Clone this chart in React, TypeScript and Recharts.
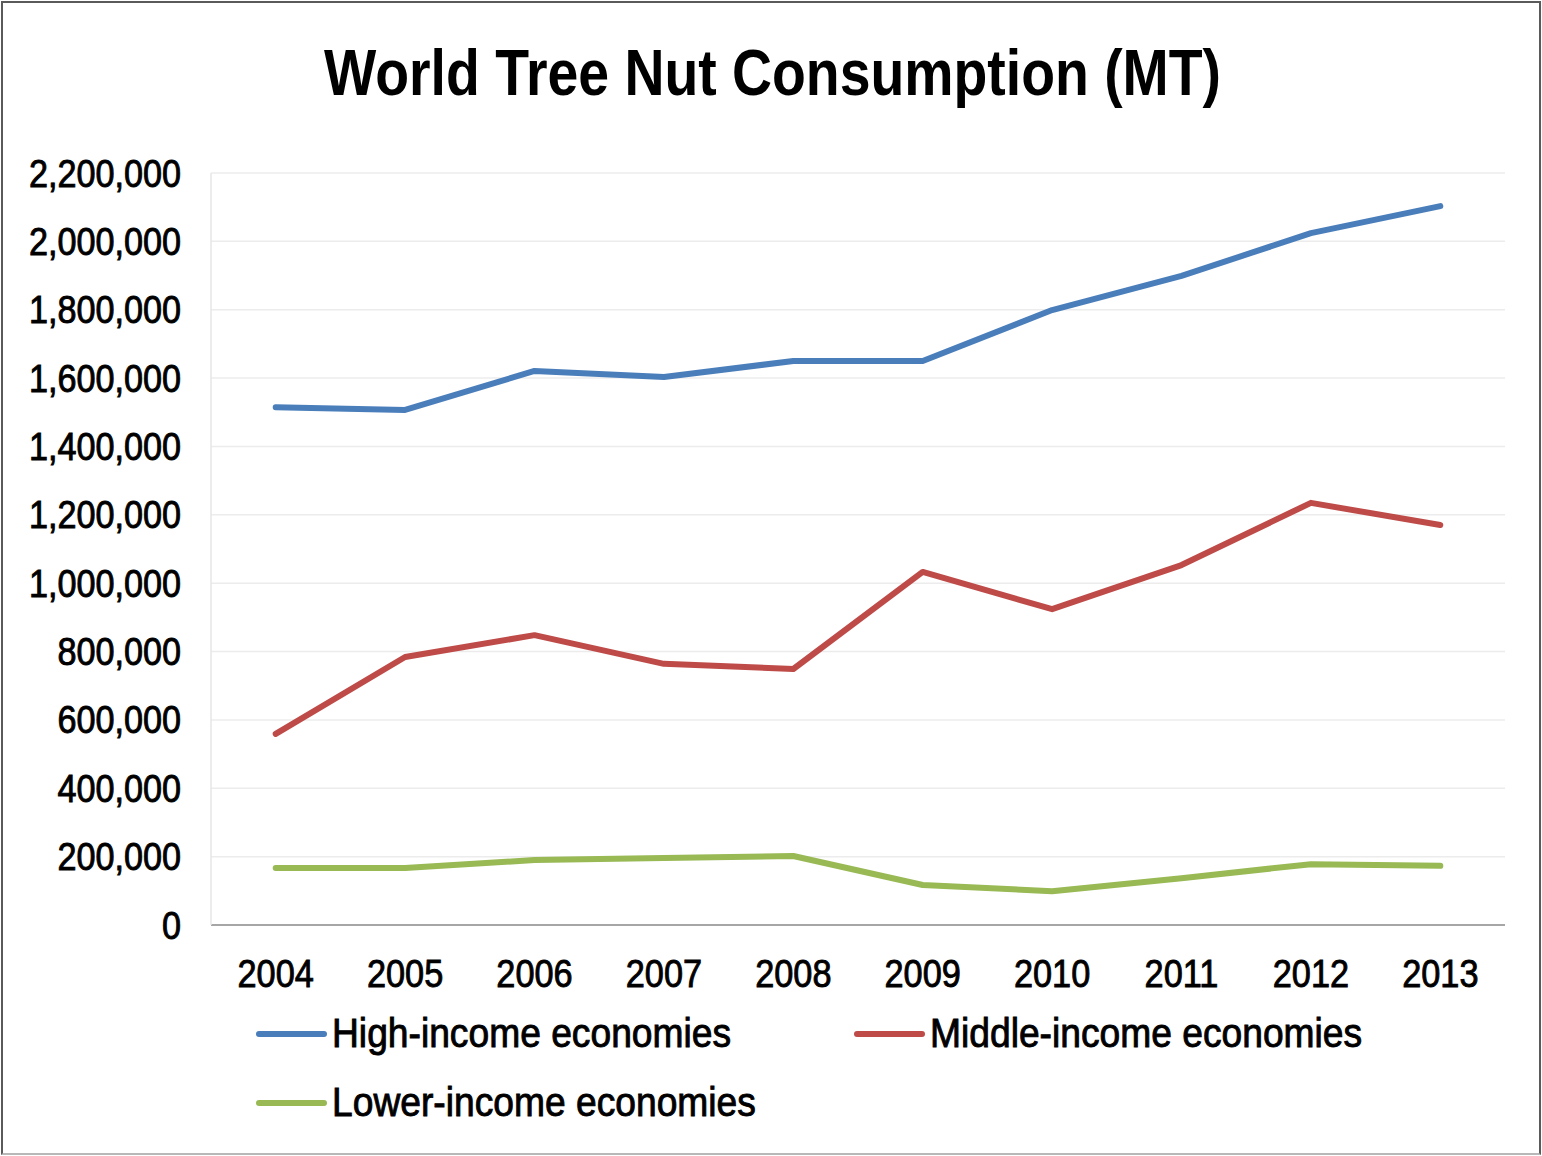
import { LineChart, Line, XAxis, YAxis, CartesianGrid, Legend } from 'recharts';

const years = ['2004', '2005', '2006', '2007', '2008', '2009', '2010', '2011', '2012', '2013'];
const highIncome = [1515000, 1507000, 1621000, 1603000, 1650000, 1650000, 1799000, 1899000, 2024000, 2103000];
const middleIncome = [559000, 784000, 848000, 764000, 749000, 1033000, 924000, 1053000, 1235000, 1170000];
const lowerIncome = [167000, 167000, 190000, 196000, 202000, 117000, 99000, 137000, 178000, 173000];
const yTicks = [0, 200000, 400000, 600000, 800000, 1000000, 1200000, 1400000, 1600000, 1800000, 2000000, 2200000];
const seriesOrder = ['High-income economies', 'Middle-income economies', 'Lower-income economies'];

const FONT = '"Liberation Sans", Arial, sans-serif';

const data = years.map((year, i) => ({
  year,
  high: highIncome[i],
  middle: middleIncome[i],
  lower: lowerIncome[i],
}));

function YTick({ x, y, payload }: any) {
  return (
    <g transform={`translate(${x},${y})`}>
      <text
        transform="scale(0.9,1)"
        textAnchor="end"
        dy="0.355em"
        fontSize={38}
        fontFamily={FONT}
        fill="#000"
        stroke="#000"
        strokeWidth={0.9}
      >
        {Number(payload.value).toLocaleString('en-US')}
      </text>
    </g>
  );
}

function XTick({ x, y, payload }: any) {
  return (
    <g transform={`translate(${x},${y})`}>
      <text
        transform="scale(0.88,1)"
        textAnchor="middle"
        dy="0.71em"
        fontSize={39}
        fontFamily={FONT}
        fill="#000"
        stroke="#000"
        strokeWidth={0.9}
      >
        {payload.value}
      </text>
    </g>
  );
}

function renderLegend({ payload }: any) {
  const items = [...(payload ?? [])].sort(
    (a: any, b: any) => seriesOrder.indexOf(a.value) - seriesOrder.indexOf(b.value)
  );
  return (
    <div style={{ display: 'flex', flexWrap: 'wrap', paddingLeft: 255, width: 1300 }}>
      {items.map((entry: any) => (
        <div key={entry.value} style={{ width: 598, height: 69, display: 'flex', alignItems: 'center' }}>
          <svg width={77} height={10} style={{ flex: 'none' }}>
            <line x1={4} y1={5} x2={69} y2={5} stroke={entry.color} strokeWidth={6} strokeLinecap="round" />
          </svg>
          <span
            style={{
              fontFamily: FONT,
              fontSize: 40,
              lineHeight: '69px',
              color: '#000',
              whiteSpace: 'nowrap',
              display: 'inline-block',
              transform: 'scaleX(0.93)',
              transformOrigin: 'left center',
              WebkitTextStroke: '0.9px #000',
            }}
          >
            {entry.value}
          </span>
        </div>
      ))}
    </div>
  );
}

export default function App() {
  return (
    <div style={{ position: 'absolute', left: 0, top: 0, width: 1542, height: 1156, background: '#fff' }}>
      <div
        style={{
          position: 'absolute',
          left: 1,
          top: 1,
          width: 1540,
          height: 1154,
          boxSizing: 'border-box',
          border: '2px solid #5a5a5a',
          borderBottomColor: '#b8b8b8',
        }}
      />
      <div
        style={{
          position: 'absolute',
          left: 0,
          top: 41,
          width: 1544,
          textAlign: 'center',
          fontFamily: FONT,
          fontWeight: 'bold',
          fontSize: 64,
          lineHeight: '64px',
          color: '#000',
          whiteSpace: 'nowrap',
        }}
      >
        <span style={{ display: 'inline-block', transform: 'scaleX(0.865)' }}>World Tree Nut Consumption (MT)</span>
      </div>
      <div style={{ position: 'absolute', left: 0, top: 0 }}>
        <LineChart width={1542} height={1156} data={data} margin={{ top: 173, right: 37, bottom: 0, left: 0 }}>
          <CartesianGrid vertical={false} stroke="#ececec" strokeWidth={1.5} />
          <XAxis
            dataKey="year"
            height={231}
            padding={{ left: 64.7, right: 64.7 }}
            tickLine={false}
            tickSize={0}
            tickMargin={34}
            axisLine={{ stroke: '#8c8c8c', strokeWidth: 1.5 }}
            tick={<XTick />}
            interval={0}
          />
          <YAxis
            width={211}
            domain={[0, 2200000]}
            ticks={yTicks}
            tickLine={false}
            tickSize={0}
            tickMargin={30}
            axisLine={{ stroke: '#e6e6e6', strokeWidth: 1.5 }}
            tick={<YTick />}
            interval={0}
          />
          <Legend
            layout="horizontal"
            verticalAlign="middle"
            align="center"
            wrapperStyle={{ top: 999, left: 0, width: 1542 }}
            content={renderLegend}
          />
          <Line
            type="linear"
            dataKey="high"
            name="High-income economies"
            stroke="#4A7EBB"
            strokeWidth={6}
            strokeLinecap="round"
            strokeLinejoin="round"
            dot={false}
            isAnimationActive={false}
          />
          <Line
            type="linear"
            dataKey="middle"
            name="Middle-income economies"
            stroke="#BE4B48"
            strokeWidth={6}
            strokeLinecap="round"
            strokeLinejoin="round"
            dot={false}
            isAnimationActive={false}
          />
          <Line
            type="linear"
            dataKey="lower"
            name="Lower-income economies"
            stroke="#98B954"
            strokeWidth={6}
            strokeLinecap="round"
            strokeLinejoin="round"
            dot={false}
            isAnimationActive={false}
          />
        </LineChart>
      </div>
    </div>
  );
}
